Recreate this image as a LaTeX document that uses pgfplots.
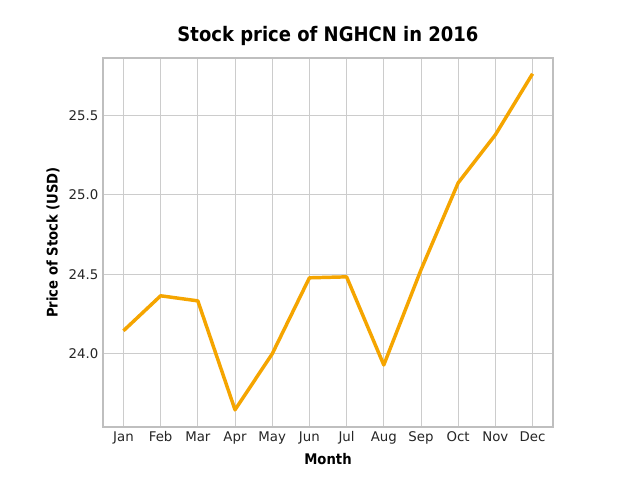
\documentclass[border=0pt]{standalone}
\usepackage{pgfplots}
\pgfplotsset{compat=1.18}
\usepackage{fontspec}
\setmainfont{DejaVu Sans}
\newfontfamily\condfont{DejaVu Sans Condensed}
\begin{document}
\begin{tikzpicture}
\path[use as bounding box,fill=white] (-77.25pt,-39.75pt) rectangle (402.75pt,320.25pt);
\begin{axis}[at={(0,0)},anchor=south west,scale only axis,width=337.5pt,height=276.75pt,
 xmin=-0.55,xmax=11.55,ymin=23.54,ymax=25.86,
 xtick={0,...,11},xticklabels={Jan,Feb,Mar,Apr,May,Jun,Jul,Aug,Sep,Oct,Nov,Dec},
 ytick={24.0,24.5,25.0,25.5},
 yticklabel style={/pgf/number format/.cd,fixed,fixed zerofill,precision=1},
 /pgf/number format/assume math mode=true,
 ticklabel style={font=\fontsize{10}{12}\selectfont,color=black!85},
 major tick length=0pt,
 grid=major,grid style={color=black!20,line width=0.6pt},
 axis line style={color=black!25,line width=0.8pt},
 title={\condfont\bfseries\fontsize{15}{18}\selectfont Stock price of NGHCN in 2016},
 xlabel={\condfont\bfseries\fontsize{11}{13}\selectfont Month},
 ylabel={\condfont\bfseries\fontsize{11}{13}\selectfont Price of Stock (USD)},
]
\addplot[color={rgb,255:red,245;green,165;blue,0},line width=2.6pt,line join=round] coordinates {
(0,24.145)(1,24.365)(2,24.333)(3,23.648)(4,24.0)(5,24.478)(6,24.484)(7,23.93)(8,24.528)(9,25.075)(10,25.377)(11,25.761)};
\end{axis}
\end{tikzpicture}
\end{document}
